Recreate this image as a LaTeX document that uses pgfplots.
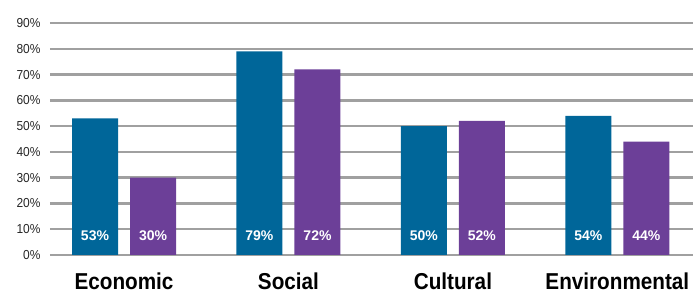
\documentclass[border=0pt]{standalone}
\usepackage{pgfplots}
\pgfplotsset{compat=1.18}
\usepackage{fontspec}
\setmainfont{Liberation Sans}
\definecolor{barblue}{RGB}{0,102,153}
\definecolor{barpurple}{RGB}{108,63,152}
\definecolor{gridgray}{RGB}{160,160,160}
\newcommand{\cl}[1]{\scalebox{0.9}[1]{#1}}
\begin{document}
\begin{tikzpicture}
\begin{axis}[
  scale only axis,
  width=643pt, height=232pt,
  xmin=-0.45, xmax=3.46,
  ymin=0, ymax=90,
  ytick={0,10,...,90},
  yticklabel={\scalebox{0.92}[1]{\pgfmathprintnumber{\tick}\%}},
  /pgf/number format/assume math mode=true,
  yticklabel style={font=\fontsize{13}{15}\selectfont, color=black!85, xshift=-6pt},
  xtick={0,1,2,3},
  xticklabels={\cl{Economic},\cl{Social},\cl{Cultural},\cl{Environmental}},
  xticklabel style={font=\fontsize{23}{26}\selectfont\bfseries, inner sep=0pt, anchor=north, yshift=-18pt},
  major tick length=0pt,
  axis line style={draw=none},
  ymajorgrids,
  grid style={draw=gridgray, line width=2.4pt},
  clip=false,
]
\addplot[ybar, bar width=46pt, bar shift=-29pt, fill=barblue, draw=none]
  coordinates {(0,53) (1,79) (2,50) (3,54)};
\addplot[ybar, bar width=46pt, bar shift=29pt, fill=barpurple, draw=none]
  coordinates {(0,30) (1,72) (2,52) (3,44)};
\addplot[draw=none, mark=none, nodes near coords, point meta=explicit symbolic,
  every node near coord/.style={anchor=center, text=white, font=\fontsize{14}{16}\selectfont\bfseries}]
  coordinates {(-0.1765,7.6) [53\%] (0.8235,7.6) [79\%] (1.8235,7.6) [50\%] (2.8235,7.6) [54\%]};
\addplot[draw=none, mark=none, nodes near coords, point meta=explicit symbolic,
  every node near coord/.style={anchor=center, text=white, font=\fontsize{14}{16}\selectfont\bfseries}]
  coordinates {(0.1765,7.6) [30\%] (1.1765,7.6) [72\%] (2.1765,7.6) [52\%] (3.1765,7.6) [44\%]};
\end{axis}
\pgfresetboundingbox
\useasboundingbox ([xshift=-50pt,yshift=-40pt]current axis.south west) rectangle ([yshift=23pt]current axis.north east);
\end{tikzpicture}
\end{document}
